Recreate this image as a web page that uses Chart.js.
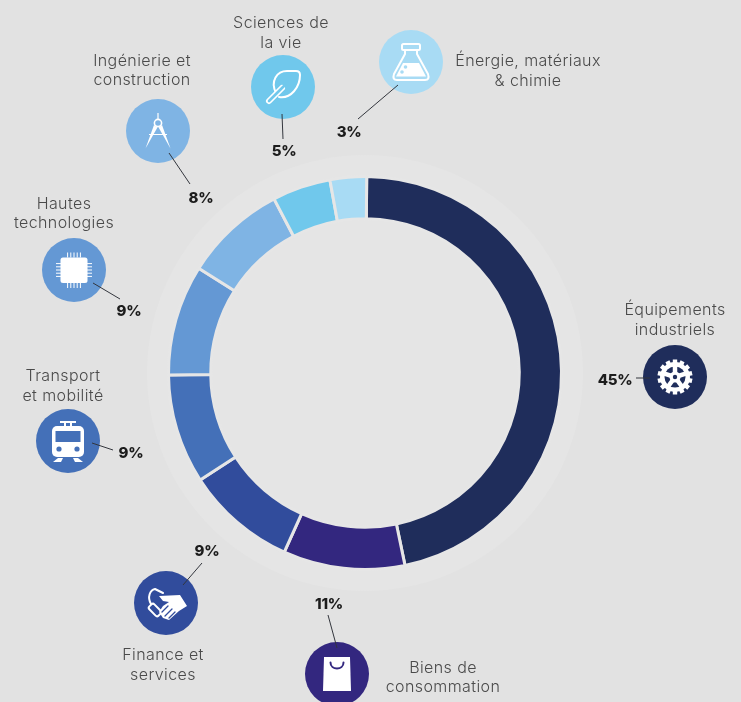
<!DOCTYPE html>
<html lang="fr">
<head>
<meta charset="utf-8">
<title>Répartition par secteur</title>
<script src="https://cdn.jsdelivr.net/npm/chart.js@4"></script>
<style>
    html, body { margin: 0; padding: 0; background: #e2e2e2; overflow: hidden; }
    canvas { display: block; }
</style>
</head>
<body>
<canvas id="sectorChart" width="741" height="702"></canvas>
<script>
// Clockwise from 12 o'clock
const sectors = ['Équipements industriels', 'Biens de consommation', 'Finance et services', 'Transport et mobilité', 'Hautes technologies', 'Ingénierie et construction', 'Sciences de la vie', 'Énergie, matériaux & chimie'];
const printedPercents = ['45%', '11%', '9%', '9%', '9%', '8%', '5%', '3%'];
// Arc sizes as measured on the ring, they differ a little from the printed figures
const arcShares = [46.6, 10, 9.1, 9, 9.1, 8.4, 4.8, 3];
const sliceColors = ['#1f2d5b', '#33277f', '#314c9c', '#4470b8', '#6498d4', '#7fb4e4', '#70c8ec', '#a8dbf4'];

// Hand placed callouts, same order as sectors
const callouts = [
    { c: [675, 377], lines: [['Équipements', 675, 309], ['industriels', 675, 329]], pct: [615, 379], lead: [636, 378, 650, 378], icon: drawGear },
    { c: [337, 674], lines: [['Biens de', 443, 667], ['consommation', 443, 686]], pct: [329, 603], lead: [337, 648, 328, 615], icon: drawBag },
    { c: [166, 603], lines: [['Finance et', 163, 654], ['services', 163, 674]], pct: [207, 550], lead: [183, 585, 202, 563], icon: drawHands },
    { c: [68, 441], lines: [['Transport', 63, 375], ['et mobilité', 63, 395]], pct: [131, 452], lead: [92, 443, 113, 450], icon: drawTram },
    { c: [74, 270], lines: [['Hautes', 64, 203], ['technologies', 64, 222]], pct: [129, 310], lead: [93, 283, 120, 299], icon: drawChip },
    { c: [158, 131], lines: [['Ingénierie et', 142, 60], ['construction', 142, 79]], pct: [201, 197], lead: [169, 153, 190, 184], icon: drawCompass },
    { c: [283, 87], lines: [['Sciences de', 281, 22], ['la vie', 281, 42]], pct: [284, 150], lead: [282, 114, 283, 139], icon: drawLeaf },
    { c: [411, 62], lines: [['Énergie, matériaux', 528, 60], ['& chimie', 528, 80]], pct: [349, 131], lead: [398, 85, 358, 119], icon: drawFlask }
];

function poly(ctx, pts) {
    ctx.beginPath();
    pts.forEach((p, i) => i ? ctx.lineTo(p[0], p[1]) : ctx.moveTo(p[0], p[1]));
    ctx.closePath();
    ctx.fill();
}

function dot(ctx, x, y, r) {
    ctx.beginPath();
    ctx.arc(x, y, r, 0, Math.PI * 2);
    ctx.fill();
}

function drawFlask(ctx, bg) {
    ctx.lineWidth = 2;
    ctx.lineJoin = 'round';
    ctx.beginPath();
    ctx.roundRect(-9, -18, 18, 6, 1.5);
    ctx.stroke();
    ctx.beginPath();
    ctx.moveTo(-6, -12);
    ctx.lineTo(-6, -8);
    ctx.lineTo(-17, 12);
    ctx.quadraticCurveTo(-19, 18, -14, 18);
    ctx.lineTo(14, 18);
    ctx.quadraticCurveTo(19, 18, 17, 12);
    ctx.lineTo(6, -8);
    ctx.lineTo(6, -12);
    ctx.stroke();
    poly(ctx, [[-8, 1], [8, 1], [15, 14.5], [-15, 14.5]]);
    ctx.fillStyle = bg;
    dot(ctx, -5.5, 5, 1.8);
    dot(ctx, -9, 10, 1.8);
}

function drawLeaf(ctx, bg) {
    ctx.lineWidth = 2;
    ctx.lineJoin = 'round';
    ctx.lineCap = 'round';
    ctx.beginPath();
    ctx.moveTo(-7, 6);
    ctx.bezierCurveTo(-13, -6, -6, -16, 4, -16);
    ctx.lineTo(13, -16);
    ctx.quadraticCurveTo(17, -16, 17, -12);
    ctx.bezierCurveTo(17, 0, 8, 12, -4, 10);
    ctx.stroke();
    ctx.lineWidth = 6;
    ctx.beginPath();
    ctx.moveTo(-14, 14);
    ctx.lineTo(-1, 1);
    ctx.stroke();
    ctx.strokeStyle = bg;
    ctx.lineWidth = 2.6;
    ctx.beginPath();
    ctx.moveTo(-14, 14);
    ctx.lineTo(2, -2);
    ctx.stroke();
}

function drawCompass(ctx) {
    ctx.lineWidth = 1.2;
    ctx.beginPath();
    ctx.moveTo(0, -18);
    ctx.lineTo(0, -11);
    ctx.moveTo(-9, 3.5);
    ctx.lineTo(9, 3.5);
    ctx.stroke();
    poly(ctx, [[-4, -6], [-0.6, -3.5], [-12.5, 17.5]]);
    poly(ctx, [[4, -6], [0.6, -3.5], [12.5, 17.5]]);
    ctx.lineWidth = 1.6;
    ctx.beginPath();
    ctx.arc(0, -8, 3.6, 0, Math.PI * 2);
    ctx.stroke();
}

function drawChip(ctx) {
    ctx.beginPath();
    ctx.roundRect(-13.5, -12.5, 27, 25.5, 2.5);
    ctx.fill();
    for (let i = -2; i <= 2; i++) {
        const p = i * 3.2;
        ctx.fillRect(p - 0.5, -17.5, 1, 5);
        ctx.fillRect(p - 0.5, 13, 1, 5);
        ctx.fillRect(-18, p - 0.5, 5, 1);
        ctx.fillRect(13, p - 0.5, 5, 1);
    }
}

function drawTram(ctx, bg) {
    ctx.beginPath();
    ctx.roundRect(-16, -15, 32, 31, 5);
    ctx.fill();
    ctx.lineWidth = 2;
    ctx.beginPath();
    ctx.moveTo(-8, -19);
    ctx.lineTo(8, -19);
    ctx.moveTo(-3, -19);
    ctx.lineTo(-3, -15);
    ctx.moveTo(3, -19);
    ctx.lineTo(3, -15);
    ctx.stroke();
    poly(ctx, [[-10, 17], [-5, 17], [-7, 21], [-15, 21]]);
    poly(ctx, [[10, 17], [5, 17], [7, 21], [15, 21]]);
    ctx.fillStyle = bg;
    ctx.fillRect(-12.5, -10, 25, 11);
    dot(ctx, -9, 8, 2.6);
    dot(ctx, 9, 8, 2.6);
}

function drawHands(ctx, bg) {
    ctx.lineJoin = 'round';
    ctx.lineCap = 'round';
    poly(ctx, [[-7, -7], [14, -8], [21, 3], [13, 8], [3, 17], [-3, 15], [-7, 9], [-3, 3], [3, -1], [-3, -2]]);
    ctx.lineWidth = 2;
    ctx.beginPath();
    ctx.moveTo(-15, 1);
    ctx.bezierCurveTo(-19, -6, -16, -13, -11, -14);
    ctx.lineTo(-3, -10);
    ctx.stroke();
    ctx.save();
    ctx.translate(-11, 7);
    ctx.rotate(0.8);
    ctx.lineWidth = 2;
    ctx.beginPath();
    ctx.roundRect(-6.5, -3.5, 13, 7, 2);
    ctx.stroke();
    ctx.restore();
    ctx.strokeStyle = bg;
    ctx.lineWidth = 1.3;
    ctx.beginPath();
    ctx.moveTo(-1, 13);
    ctx.lineTo(6, 6);
    ctx.moveTo(3, 15);
    ctx.lineTo(9, 9);
    ctx.moveTo(-4, 9);
    ctx.lineTo(2, 3);
    ctx.stroke();
}

function drawBag(ctx, bg) {
    poly(ctx, [[-13, -17], [13, -17], [14, 17], [-14, 17]]);
    ctx.strokeStyle = bg;
    ctx.lineWidth = 2;
    ctx.lineCap = 'round';
    ctx.beginPath();
    ctx.moveTo(-6.5, -11.5);
    ctx.bezierCurveTo(-6.5, -3.5, 6.5, -3.5, 6.5, -11.5);
    ctx.stroke();
}

function drawGear(ctx, bg) {
    for (let i = 0; i < 14; i++) {
        ctx.save();
        ctx.rotate(i * Math.PI / 7);
        ctx.fillRect(-2.2, -17.5, 4.4, 5);
        ctx.restore();
    }
    dot(ctx, 0, 0, 15);
    ctx.fillStyle = bg;
    dot(ctx, 0, 0, 10.5);
    ctx.strokeStyle = '#fff';
    ctx.lineWidth = 4.5;
    for (let i = 0; i < 5; i++) {
        ctx.save();
        ctx.rotate(i * Math.PI * 2 / 5);
        ctx.beginPath();
        ctx.moveTo(0, 0);
        ctx.lineTo(0, -12);
        ctx.stroke();
        ctx.restore();
    }
    ctx.fillStyle = '#fff';
    dot(ctx, 0, 0, 5.5);
    ctx.fillStyle = bg;
    dot(ctx, 0, 0, 2.2);
}

// Lighter disc behind the ring
const haloPlugin = {
    id: 'halo',
    beforeDatasetsDraw(chart) {
        const arc = chart.getDatasetMeta(0).data[0];
        const ctx = chart.ctx;
        ctx.save();
        ctx.fillStyle = '#e5e5e5';
        ctx.beginPath();
        ctx.arc(arc.x, arc.y, 218, 0, Math.PI * 2);
        ctx.fill();
        ctx.restore();
    }
};

const calloutPlugin = {
    id: 'callouts',
    afterDatasetsDraw(chart) {
        const ctx = chart.ctx;
        ctx.save();
        ctx.textAlign = 'center';
        ctx.textBaseline = 'middle';
        callouts.forEach((item, i) => {
            const bg = sliceColors[i];
            ctx.fillStyle = bg;
            ctx.beginPath();
            ctx.arc(item.c[0], item.c[1], 32, 0, Math.PI * 2);
            ctx.fill();

            ctx.save();
            ctx.translate(item.c[0], item.c[1]);
            ctx.fillStyle = '#fff';
            ctx.strokeStyle = '#fff';
            item.icon(ctx, bg);
            ctx.restore();

            ctx.strokeStyle = '#33363d';
            ctx.lineWidth = 1;
            ctx.beginPath();
            ctx.moveTo(item.lead[0], item.lead[1]);
            ctx.lineTo(item.lead[2], item.lead[3]);
            ctx.stroke();

            ctx.fillStyle = '#4a4a4a';
            ctx.font = '300 16px Inter';
            ctx.letterSpacing = '0.4px';
            item.lines.forEach(line => ctx.fillText(line[0], line[1], line[2] + 1));

            ctx.fillStyle = '#1c1c1c';
            ctx.font = '800 15px Inter';
            ctx.letterSpacing = '-0.3px';
            ctx.fillText(printedPercents[i], item.pct[0], item.pct[1] + 1);
        });
        ctx.restore();
    }
};

new Chart(document.getElementById('sectorChart'), {
    type: 'doughnut',
    data: {
        labels: sectors,
        datasets: [{
            data: arcShares,
            backgroundColor: sliceColors,
            borderColor: '#e6e6e6',
            borderWidth: 3,
            hoverOffset: 0
        }]
    },
    options: {
        responsive: false,
        animation: false,
        rotation: 0.5,
        cutout: '78.5%',
        layout: { padding: { left: 167, right: 178, top: 175, bottom: 131 } },
        plugins: {
            legend: { display: false },
            tooltip: { enabled: false }
        }
    },
    plugins: [haloPlugin, calloutPlugin]
});
</script>
</body>
</html>
